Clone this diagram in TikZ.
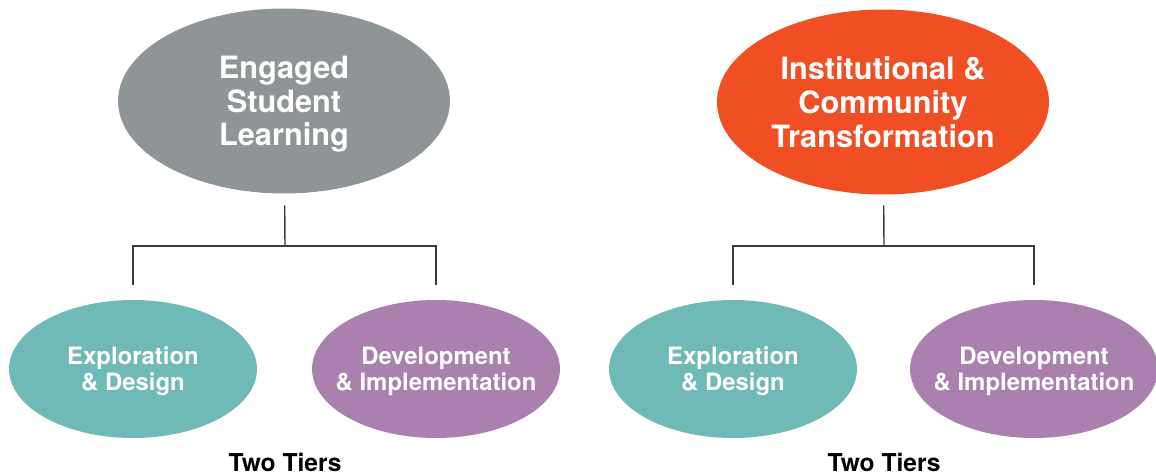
\documentclass[tikz,border=0pt]{standalone}
\usepackage{fontspec}
\setmainfont{TeX Gyre Heros}
\usetikzlibrary{arrows,positioning,shapes.geometric}
\pgfdeclarelayer{edgelayer}
\pgfdeclarelayer{nodelayer}
\pgfsetlayers{edgelayer,nodelayer,main}
\definecolor{lgray}{HTML}{8F9597}
\definecolor{lorange}{HTML}{F04E23}
\definecolor{lteal}{HTML}{6FBAB6}
\definecolor{lpurple}{HTML}{A980AE}
\definecolor{lline}{HTML}{3A3A3A}
\tikzstyle{program}=[ellipse,inner xsep=-0.6cm,inner ysep=0pt,text depth=-2pt,minimum width=6.64cm,minimum height=3.7cm,text=white,align=center,font=\fontsize{17.5}{19.2}\selectfont\bfseries]
\tikzstyle{tier}=[ellipse,inner xsep=-0.6cm,inner ysep=0pt,text depth=-2pt,minimum width=4.96cm,minimum height=2.76cm,text=white,align=center,font=\fontsize{13.6}{14.8}\selectfont\bfseries]
\tikzstyle{caption}=[anchor=base,font=\fontsize{14}{16}\selectfont\bfseries]
\tikzstyle{branch}=[draw=lline,line width=0.8pt]
\begin{document}
\begin{tikzpicture}[x=0.02cm,y=-0.02cm]
	\useasboundingbox (0,0) rectangle (1156,474);
	\begin{pgfonlayer}{nodelayer}
		\node [style=program, fill=lgray] (ESL) at (284,101) {Engaged\\Student\\Learning};
		\node [style=program, fill=lorange] (ICT) at (883,102) {Institutional \&\\Community\\Transformation};
		\node [style=tier, fill=lteal] (ED1) at (133,369) {Exploration\\\& Design};
		\node [style=tier, fill=lpurple] (DI1) at (436,369) {Development\\\& Implementation};
		\node [style=tier, fill=lteal] (ED2) at (733,369) {Exploration\\\& Design};
		\node [style=tier, fill=lpurple] (DI2) at (1034,369) {Development\\\& Implementation};
		\node [style=caption] (T1) at (285,471) {Two Tiers};
		\node [style=caption] (T2) at (884,471) {Two Tiers};
		\coordinate (J1) at (285,246);
		\coordinate (J2) at (884,246);
	\end{pgfonlayer}
	\begin{pgfonlayer}{edgelayer}
		\draw [style=branch, shorten <=0.23cm] (ESL) -- (J1);
		\draw [style=branch, shorten >=0.3cm] (J1) -| (ED1);
		\draw [style=branch, shorten >=0.3cm] (J1) -| (DI1);
		\draw [style=branch, shorten <=0.21cm] (ICT) -- (J2);
		\draw [style=branch, shorten >=0.3cm] (J2) -| (ED2);
		\draw [style=branch, shorten >=0.3cm] (J2) -| (DI2);
	\end{pgfonlayer}
\end{tikzpicture}
\end{document}
